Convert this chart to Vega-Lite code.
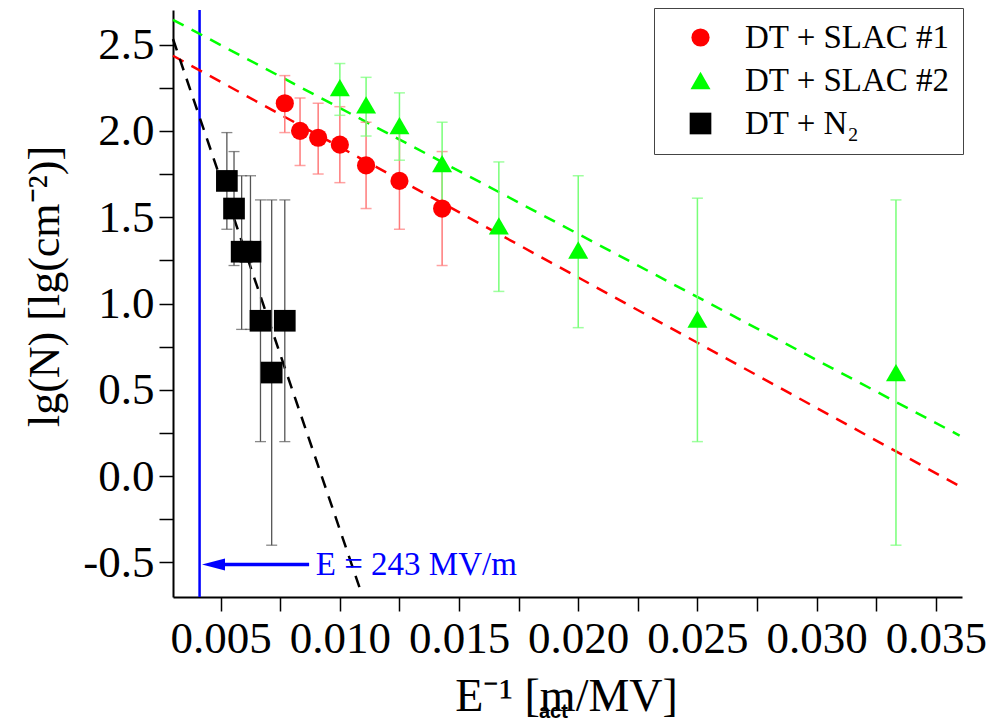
{
  "$schema": "https://vega.github.io/schema/vega-lite/v6.json",
  "width": 789,
  "height": 587,
  "autosize": {"type": "none"},
  "padding": {"left": 173, "top": 10, "right": 28, "bottom": 124},
  "background": "white",
  "config": {
    "view": {"stroke": null},
    "font": "Liberation Serif",
    "axis": {
      "grid": false,
      "domainColor": "#000",
      "domainWidth": 2,
      "tickColor": "#000",
      "tickWidth": 1.5,
      "tickSize": 14,
      "labelFont": "Liberation Serif",
      "labelFontSize": 45,
      "labelColor": "#000",
      "titleFont": "Liberation Serif",
      "titleFontWeight": "normal",
      "titleColor": "#000"
    },
    "legend": {
      "orient": "none",
      "legendX": 481,
      "legendY": -2,
      "strokeColor": "#444",
      "fillColor": "white",
      "padding": 13,
      "symbolOffset": 17,
      "labelOffset": 28,
      "labelFont": "Liberation Serif",
      "labelFontSize": 33,
      "labelColor": "#000",
      "labelLimit": 400,
      "symbolSize": 220,
      "symbolStrokeWidth": 0,
      "rowPadding": 9
    }
  },
  "datasets": {
    "pts": [
      {"series": "DT + SLAC #1", "x": 0.00769, "y": 2.16, "lo": 1.99, "hi": 2.32},
      {"series": "DT + SLAC #1", "x": 0.00833, "y": 2.00, "lo": 1.80, "hi": 2.19},
      {"series": "DT + SLAC #1", "x": 0.00909, "y": 1.96, "lo": 1.75, "hi": 2.16},
      {"series": "DT + SLAC #1", "x": 0.0100, "y": 1.92, "lo": 1.70, "hi": 2.14},
      {"series": "DT + SLAC #1", "x": 0.0111, "y": 1.80, "lo": 1.55, "hi": 2.05},
      {"series": "DT + SLAC #1", "x": 0.0125, "y": 1.71, "lo": 1.43, "hi": 1.99},
      {"series": "DT + SLAC #1", "x": 0.01429, "y": 1.55, "lo": 1.22, "hi": 1.88},
      {"series": "DT + SLAC #2", "x": 0.0100, "y": 2.25, "lo": 2.09, "hi": 2.39},
      {"series": "DT + SLAC #2", "x": 0.0111, "y": 2.15, "lo": 1.97, "hi": 2.31},
      {"series": "DT + SLAC #2", "x": 0.0125, "y": 2.03, "lo": 1.83, "hi": 2.22},
      {"series": "DT + SLAC #2", "x": 0.01429, "y": 1.81, "lo": 1.56, "hi": 2.05},
      {"series": "DT + SLAC #2", "x": 0.01667, "y": 1.45, "lo": 1.07, "hi": 1.82},
      {"series": "DT + SLAC #2", "x": 0.0200, "y": 1.31, "lo": 0.86, "hi": 1.74},
      {"series": "DT + SLAC #2", "x": 0.0250, "y": 0.91, "lo": 0.20, "hi": 1.61},
      {"series": "DT + SLAC #2", "x": 0.03333, "y": 0.60, "lo": -0.40, "hi": 1.60},
      {"series": "DT + N₂", "x": 0.00526, "y": 1.71, "lo": 1.43, "hi": 1.99},
      {"series": "DT + N₂", "x": 0.00556, "y": 1.55, "lo": 1.22, "hi": 1.88},
      {"series": "DT + N₂", "x": 0.00588, "y": 1.30, "lo": 0.85, "hi": 1.74},
      {"series": "DT + N₂", "x": 0.00625, "y": 1.30, "lo": 0.85, "hi": 1.74},
      {"series": "DT + N₂", "x": 0.00667, "y": 0.90, "lo": 0.20, "hi": 1.60},
      {"series": "DT + N₂", "x": 0.00714, "y": 0.60, "lo": -0.40, "hi": 1.60},
      {"series": "DT + N₂", "x": 0.00769, "y": 0.90, "lo": 0.20, "hi": 1.60}
    ],
    "fits": [
      {"fit": "SLAC #1", "x": 0.003, "y": 2.435},
      {"fit": "SLAC #1", "x": 0.036, "y": -0.058},
      {"fit": "SLAC #2", "x": 0.003, "y": 2.643},
      {"fit": "SLAC #2", "x": 0.036, "y": 0.235},
      {"fit": "N2", "x": 0.003, "y": 2.532},
      {"fit": "N2", "x": 0.01084, "y": -0.651}
    ]
  },
  "encoding": {
    "x": {
      "field": "x", "type": "quantitative",
      "scale": {"domain": [0.003, 0.0361], "nice": false, "zero": false},
      "axis": {
        "title": "E⁻¹ [m/MV]",
        "titleFontSize": 46,
        "titleX": 393,
        "titleY": 113,
        "titleAlign": "center",
        "titleBaseline": "alphabetic",
        "labelFont": "Liberation Serif",
        "values": [0.005, 0.0075, 0.01, 0.0125, 0.015, 0.0175, 0.02, 0.0225, 0.025, 0.0275, 0.03, 0.0325, 0.035],
        "format": ".3f",
        "labelPadding": 5,
        "labelExpr": "round(datum.value*1000) % 5 == 0 ? datum.label : ''"
      }
    },
    "y": {
      "field": "y", "type": "quantitative",
      "scale": {"domain": [-0.7, 2.7], "nice": false, "zero": false},
      "axis": {
        "title": "lg(N) [lg(cm⁻²)]",
        "titleFontSize": 44,
        "titleX": -128,
        "titleY": 276,
        "titleAngle": -90,
        "titleAlign": "center",
        "titleBaseline": "middle",
        "labelFont": "Liberation Serif",
        "values": [-0.5, -0.25, 0, 0.25, 0.5, 0.75, 1, 1.25, 1.5, 1.75, 2, 2.25, 2.5],
        "format": ".1f",
        "labelPadding": 5,
        "labelExpr": "round(datum.value*4) % 2 == 0 ? replace(datum.label, '−', '-') : ''"
      }
    }
  },
  "layer": [
    {
      "data": {"values": [{"x": 0.004115}]},
      "mark": {"type": "rule", "color": "#0000ff", "strokeWidth": 2.5},
      "encoding": {"x": {"field": "x", "type": "quantitative"}, "y": null}
    },
    {
      "data": {"name": "fits"},
      "transform": [{"filter": "datum.fit == 'SLAC #2'"}],
      "mark": {"type": "line", "color": "#00ff00", "strokeWidth": 2.5, "strokeDash": [12, 9]},
      "encoding": {}
    },
    {
      "data": {"name": "fits"},
      "transform": [{"filter": "datum.fit == 'SLAC #1'"}],
      "mark": {"type": "line", "color": "#ff0000", "strokeWidth": 2.5, "strokeDash": [12, 9]},
      "encoding": {}
    },
    {
      "data": {"name": "fits"},
      "transform": [{"filter": "datum.fit == 'N2'"}],
      "mark": {"type": "line", "color": "#000000", "strokeWidth": 2.5, "strokeDash": [12, 9]},
      "encoding": {}
    },
    {
      "data": {"name": "pts"},
      "transform": [{"filter": "datum.series == 'DT + N₂'"}],
      "layer": [
        {"mark": {"type": "rule", "color": "#555", "strokeWidth": 1.3}, "encoding": {"y": {"field": "lo", "type": "quantitative"}, "y2": {"field": "hi"}}},
        {"transform": [{"fold": ["lo", "hi"], "as": ["end", "yv"]}], "mark": {"type": "tick", "orient": "horizontal", "color": "#555", "size": 11, "thickness": 1.3}, "encoding": {"y": {"field": "yv", "type": "quantitative"}}}
      ]
    },
    {
      "data": {"name": "pts"},
      "transform": [{"filter": "datum.series == 'DT + SLAC #1'"}],
      "layer": [
        {"mark": {"type": "rule", "color": "#ff7a7a", "strokeWidth": 1.5}, "encoding": {"y": {"field": "lo", "type": "quantitative"}, "y2": {"field": "hi"}}},
        {"transform": [{"fold": ["lo", "hi"], "as": ["end", "yv"]}], "mark": {"type": "tick", "orient": "horizontal", "color": "#ff7a7a", "size": 11, "thickness": 1.5}, "encoding": {"y": {"field": "yv", "type": "quantitative"}}}
      ]
    },
    {
      "data": {"name": "pts"},
      "transform": [{"filter": "datum.series == 'DT + SLAC #2'"}],
      "layer": [
        {"mark": {"type": "rule", "color": "#78ff78", "strokeWidth": 1.5}, "encoding": {"y": {"field": "lo", "type": "quantitative"}, "y2": {"field": "hi"}}},
        {"transform": [{"fold": ["lo", "hi"], "as": ["end", "yv"]}], "mark": {"type": "tick", "orient": "horizontal", "color": "#78ff78", "size": 11, "thickness": 1.5}, "encoding": {"y": {"field": "yv", "type": "quantitative"}}}
      ]
    },
    {
      "data": {"name": "pts"},
      "mark": {"type": "point", "filled": true, "opacity": 1, "strokeWidth": 0},
      "encoding": {
        "color": {
          "field": "series", "type": "nominal",
          "scale": {"domain": ["DT + SLAC #1", "DT + SLAC #2", "DT + N₂"], "range": ["#ff0000", "#00ff00", "#000000"]},
          "legend": {"title": null, "labelExpr": "datum.label + '\u00a0\u00a0\u00a0\u00a0'"}
        },
        "shape": {
          "field": "series", "type": "nominal",
          "scale": {"domain": ["DT + SLAC #1", "DT + SLAC #2", "DT + N₂"], "range": ["circle", "triangle-up", "square"]},
          "legend": {"title": null, "labelExpr": "datum.label + '\u00a0\u00a0\u00a0\u00a0'"}
        },
        "size": {
          "field": "series", "type": "nominal",
          "scale": {"domain": ["DT + SLAC #1", "DT + SLAC #2", "DT + N₂"], "range": [330, 470, 250]},
          "legend": null
        }
      }
    },
    {
      "data": {"values": [{"x": 0.0047, "x2": 0.00871, "y": -0.512}]},
      "layer": [
        {"mark": {"type": "rule", "color": "#0000ff", "strokeWidth": 3.5}, "encoding": {"x2": {"field": "x2"}}},
        {"mark": {"type": "point", "shape": "M-1,0L1,-0.52L1,0.52Z", "filled": true, "color": "#0000ff", "opacity": 1, "size": 529, "strokeWidth": 0}, "encoding": {}}
      ]
    },
    {
      "data": {"values": [{"x": 0.00899, "y": -0.512, "label": "E = 243 MV/m"}]},
      "mark": {"type": "text", "align": "left", "baseline": "middle", "font": "Liberation Serif", "fontSize": 33, "color": "#0000ff"},
      "encoding": {"text": {"field": "label"}}
    },
    {
      "data": {"values": [{"x": 0.01896, "y": -1.31, "label": "act"}]},
      "mark": {"type": "text", "align": "center", "baseline": "top", "font": "Liberation Sans", "fontWeight": "bold", "fontSize": 20, "color": "#000"},
      "encoding": {"text": {"field": "label"}}
    }
  ]
}
